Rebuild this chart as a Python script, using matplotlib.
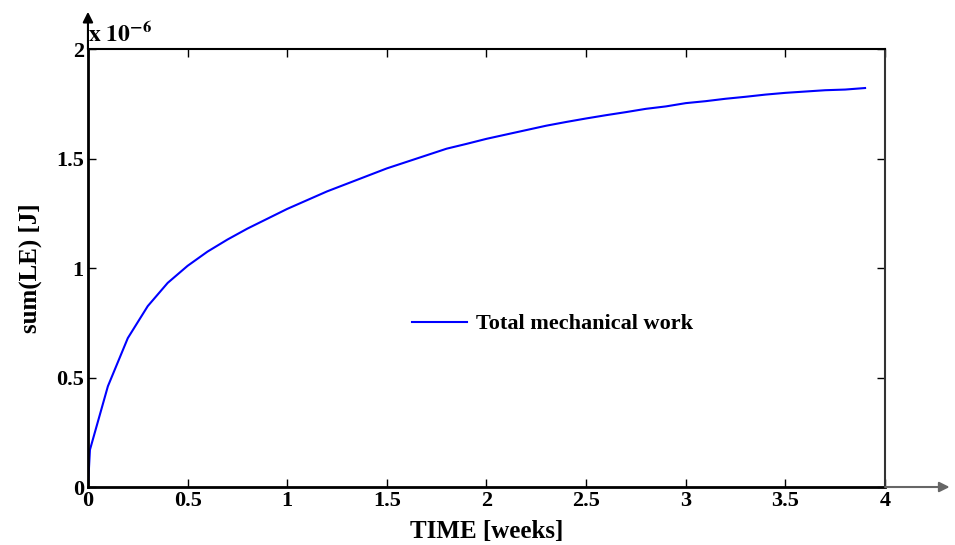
import numpy as np
import matplotlib
matplotlib.use("Agg")
import matplotlib.pyplot as plt

plt.rcParams['font.family'] = ['Liberation Serif', 'DejaVu Serif']
plt.rcParams['font.weight'] = 'bold'
plt.rcParams['mathtext.fontset'] = 'stix'

# time in weeks, cumulative work in units of 1e-6 J
time_weeks = [0.0, 0.01, 0.1, 0.2, 0.3, 0.4, 0.5, 0.6, 0.7, 0.8, 0.9,
              1.0, 1.1, 1.2, 1.3, 1.4, 1.5, 1.6, 1.7, 1.8, 1.9,
              2.0, 2.1, 2.2, 2.3, 2.4, 2.5, 2.6, 2.7, 2.8, 2.9,
              3.0, 3.1, 3.2, 3.3, 3.4, 3.5, 3.6, 3.7, 3.8, 3.9]
work_e6 = [0.0, 0.17, 0.46, 0.68, 0.826, 0.932, 1.01, 1.075, 1.13, 1.18, 1.225,
           1.27, 1.31, 1.35, 1.385, 1.42, 1.455, 1.485, 1.515, 1.545, 1.567,
           1.59, 1.61, 1.63, 1.65, 1.667, 1.683, 1.698, 1.712, 1.727, 1.738,
           1.753, 1.762, 1.773, 1.782, 1.792, 1.80, 1.806, 1.812, 1.815, 1.822]

xticks = [0, 0.5, 1, 1.5, 2, 2.5, 3, 3.5, 4]
xtick_labels = ['0', '0.5', '1', '1.5', '2', '2.5', '3', '3.5', '4']
yticks = [0, 0.5, 1, 1.5, 2]
ytick_labels = ['0', '0.5', '1', '1.5', '2']

fig = plt.figure(figsize=(9.55, 5.45), dpi=100)
ax = fig.add_axes([0.0921, 0.1064, 0.8346, 0.8036])

ax.plot(time_weeks, work_e6, color='#0000ff', lw=1.5, label='Total mechanical work')

ax.set_xlim(0, 4)
ax.set_ylim(0, 2)
ax.set_xticks(xticks)
ax.set_xticklabels(xtick_labels)
ax.set_yticks(yticks)
ax.set_yticklabels(ytick_labels)
ax.tick_params(direction='in', length=6, width=1, labelsize=16,
               top=True, right=True, pad=3)

for side in ['left', 'bottom']:
    ax.spines[side].set_linewidth(2.0)
for side in ['top', 'right']:
    ax.spines[side].set_linewidth(1.5)
ax.spines['right'].set_color('#333333')

ax.set_xlabel('TIME [weeks]', fontsize=18, fontweight='bold', labelpad=6)
ax.set_ylabel('sum(LE) [J]', fontsize=18, fontweight='bold', labelpad=10)

# exponent label above the y-axis
ax.text(0.0, 1.005, r'$\mathbf{x\ 10^{-6}}$', transform=ax.transAxes,
        fontsize=17, ha='left', va='bottom')

# axis arrows
ax.annotate('', xy=(1.081, 0), xytext=(1.0, 0), xycoords='axes fraction',
            arrowprops=dict(arrowstyle='-|>', color='#666666', lw=1.5,
                            mutation_scale=15, shrinkA=0, shrinkB=0),
            annotation_clip=False)
ax.annotate('', xy=(0, 1.085), xytext=(0, 1.0), xycoords='axes fraction',
            arrowprops=dict(arrowstyle='-|>', color='black', lw=1.5,
                            mutation_scale=15, shrinkA=0, shrinkB=0),
            annotation_clip=False)

ax.legend(loc='center left', bbox_to_anchor=(0.381, 0.372), frameon=False,
          handlelength=2.5, handletextpad=0.4,
          prop={'weight': 'bold', 'size': 16})

fig.savefig('out.png', dpi=100)
